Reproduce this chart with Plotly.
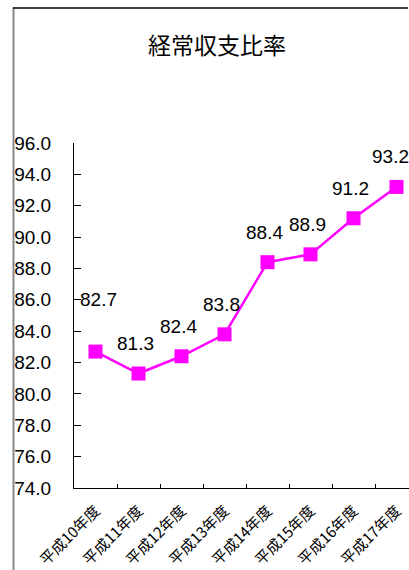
import plotly.graph_objects as go

# 経常収支比率 (%) by fiscal year
categories = ["平成10年度", "平成11年度", "平成12年度", "平成13年度",
              "平成14年度", "平成15年度", "平成16年度", "平成17年度"]
ratios = [82.7, 81.3, 82.4, 83.8, 88.4, 88.9, 91.2, 93.2]
y_ticks = [74.0, 76.0, 78.0, 80.0, 82.0, 84.0, 86.0, 88.0, 90.0, 92.0, 94.0, 96.0]

W, H = 409, 570
ML, MR, MT, MB = 74, 0, 143, 82
plot_w = W - ML - MR
plot_h = H - MT - MB
cat_px = 43.0  # width of one category slot


def px_x(p):
    return (p - ML) / plot_w


def px_y(p):
    return (H - MB - p) / plot_h


LINE_COLOR = "#FF00FF"
NUM_FONT = "Liberation Sans, Arial, sans-serif"
CJK_FONT = "Noto Sans CJK JP, sans-serif"

fig = go.Figure()
fig.add_trace(go.Scatter(
    x=categories, y=ratios, mode="lines+markers",
    line=dict(color=LINE_COLOR, width=2.5),
    marker=dict(symbol="square", size=14, color=LINE_COLOR),
    hoverinfo="skip", showlegend=False, cliponaxis=False,
))

# value labels above each point
shifts = [(3, 52)] + [(-3, 30)] * 6 + [(-6, 30)]
for cat, v, (dx, dy) in zip(categories, ratios, shifts):
    fig.add_annotation(x=cat, y=v, text=f"{v:.1f}", showarrow=False,
                       xshift=dx, yshift=dy, yanchor="middle",
                       font=dict(family=NUM_FONT, size=19, color="black"))

# chart title
fig.add_annotation(xref="paper", yref="paper", x=px_x(217), y=px_y(44),
                   text="経常収支比率", showarrow=False,
                   xanchor="center", yanchor="middle",
                   font=dict(family=CJK_FONT, size=23, color="black"))

# outer chart frame (left and top edges)
fig.add_shape(type="line", xref="paper", yref="paper",
              x0=px_x(13.5), x1=px_x(13.5), y0=px_y(7.5), y1=px_y(600),
              line=dict(color="#888888", width=2))
fig.add_shape(type="line", xref="paper", yref="paper",
              x0=px_x(13), x1=px_x(408), y0=px_y(8), y1=px_y(8),
              line=dict(color="black", width=1.5))

x_max = -0.5 + plot_w / cat_px

fig.update_layout(
    width=W, height=H,
    margin=dict(l=ML, r=MR, t=MT, b=MB, pad=0, autoexpand=False),
    paper_bgcolor="white", plot_bgcolor="white",
    xaxis=dict(
        type="category", range=[-0.5, x_max], tickson="boundaries",
        ticks="inside", ticklen=4, tickcolor="black",
        showline=True, linecolor="black", linewidth=1,
        showgrid=False, zeroline=False, tickangle=-45,
        ticklabelstandoff=7, automargin=False,
        tickfont=dict(family=CJK_FONT, size=15, color="black"),
    ),
    yaxis=dict(
        range=[74, 96], tickvals=y_ticks,
        ticktext=[f"{t:.1f}" for t in y_ticks],
        ticks="inside", ticklen=7, tickcolor="black",
        showline=True, linecolor="black", linewidth=1,
        showgrid=False, zeroline=False, ticklabelstandoff=18,
        automargin=False,
        tickfont=dict(family=NUM_FONT, size=19, color="black"),
    ),
)

fig.write_html("out.html")
